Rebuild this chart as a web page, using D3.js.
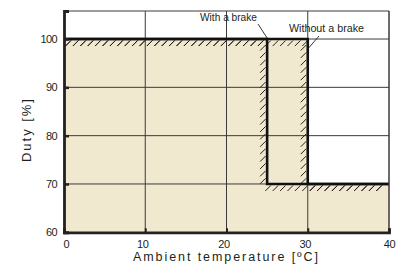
<!DOCTYPE html>
<html>
<head>
<meta charset="utf-8">
<style>
  body { margin: 0; background: #fff; }
  text { font-family: "Liberation Sans", sans-serif; fill: #231f20; }
  .grid line { stroke: #3a3a3a; stroke-width: 1; }
  .hatch line { stroke: #231f20; stroke-width: 1; }
</style>
</head>
<body>
<svg width="400" height="265"></svg>
<script src="https://cdnjs.cloudflare.com/ajax/libs/d3/7.8.5/d3.min.js"></script>
<script>
// data
var xTicks = [0, 10, 20, 30, 40];
var yTicks = [60, 70, 80, 90, 100];
var withBrake = [[0, 100], [25, 100], [25, 70], [40, 70]];
var withoutBrake = [[0, 100], [30, 100], [30, 70], [40, 70]];
var labels = ["With a brake", "Without a brake"];

var svg = d3.select("svg");
var pL = 64, pR = 389, pT = 11, pB = 232.3;

var x = d3.scaleLinear().domain([0, 40]).range([pL, pR]);
var y = d3.scaleLinear().domain([60, 105.8]).range([pB, pT]);

// beige area under the outer curve
var area = d3.area()
    .x(function(d) { return x(d[0]); })
    .y0(y(60))
    .y1(function(d) { return y(d[1]); });
svg.append("path")
    .datum(withoutBrake)
    .attr("d", area)
    .attr("fill", "#f0e9cf");

// grid
var grid = svg.append("g").attr("class", "grid");
grid.selectAll(".gx").data(xTicks.slice(1))
  .enter().append("line")
    .attr("x1", function(d) { return x(d); })
    .attr("x2", function(d) { return x(d); })
    .attr("y1", pT).attr("y2", pB);
grid.selectAll(".gy").data(yTicks.slice(1))
  .enter().append("line")
    .attr("x1", pL).attr("x2", pR)
    .attr("y1", function(d) { return y(d); })
    .attr("y2", function(d) { return y(d); });
grid.append("line").attr("x1", pL).attr("x2", pR).attr("y1", pT).attr("y2", pT);

// hatch marks on the right-hand side of travel (below / left)
var hatch = svg.append("g").attr("class", "hatch");
var step = 7.4, hl = 5.5;
function addHatches(pts) {
  for (var i = 0; i < pts.length - 1; i++) {
    var x0 = x(pts[i][0]), y0 = y(pts[i][1]), x1 = x(pts[i + 1][0]), y1 = y(pts[i + 1][1]);
    var marks = [];
    if (y0 === y1) {
      for (var px = pL + 7; px <= x1 + 0.1; px += step) {
        if (px >= x0 + 2) marks.push([px, y0 + 1.5]);
      }
    } else {
      for (var py = y0 + 6; py <= y1 - 2; py += step) marks.push([x0 - 1.5, py]);
    }
    hatch.selectAll(null).data(marks).enter().append("line")
      .attr("x1", function(d) { return d[0] - hl; })
      .attr("y1", function(d) { return d[1] + hl; })
      .attr("x2", function(d) { return d[0]; })
      .attr("y2", function(d) { return d[1]; });
  }
}
addHatches(withBrake);
addHatches(withoutBrake);

// curves
var line = d3.line()
    .x(function(d) { return x(d[0]); })
    .y(function(d) { return y(d[1]); });
[withBrake, withoutBrake].forEach(function(s) {
  svg.append("path").datum(s).attr("d", line)
    .attr("fill", "none").attr("stroke", "#111").attr("stroke-width", 2.6)
    .attr("stroke-linejoin", "miter");
});

// frame
svg.append("line").attr("x1", pR).attr("x2", pR).attr("y1", pT).attr("y2", pB)
  .attr("stroke", "#3a3a3a").attr("stroke-width", 1);

var yAxis = d3.axisLeft(y).tickValues(yTicks.concat([105.8])).tickSize(-5).tickPadding(7)
  .tickFormat(function(d) { return d > 100 ? "" : d; });
var gy = svg.append("g").attr("transform", "translate(" + pL + ",0)").call(yAxis);
gy.select(".domain").attr("stroke", "#222").attr("stroke-width", 2.8);
gy.selectAll(".tick line").attr("stroke", "#222").attr("stroke-width", 2.5);
gy.selectAll(".tick text").attr("font-size", 11).attr("letter-spacing", -0.6)
  .attr("font-family", "Liberation Sans").attr("fill", "#231f20");

var xAxis = d3.axisBottom(x).tickValues(xTicks).tickSize(-4).tickPadding(8);
var gx = svg.append("g").attr("transform", "translate(0," + pB + ")").call(xAxis);
gx.select(".domain").attr("stroke", "#222").attr("stroke-width", 2.8);
gx.selectAll(".tick line").attr("stroke", "#222").attr("stroke-width", 2);
gx.selectAll(".tick text").attr("font-size", 11).attr("letter-spacing", -0.3)
  .attr("font-family", "Liberation Sans").attr("fill", "#231f20")
  .attr("text-anchor", function(d) { return d === 0 ? "start" : "middle"; })
  .attr("dx", function(d) { return d === 0 ? -1 : (d === 40 ? 0 : -3); });

// axis titles
svg.append("text")
    .attr("x", 133).attr("y", 261)
    .attr("font-size", 12.5).attr("font-family", "Open Sans")
    .attr("textLength", 185).attr("lengthAdjust", "spacing")
    .text("Ambient temperature [ºC]");
svg.append("text")
    .attr("transform", "translate(31,162) rotate(-90)")
    .attr("font-size", 13).attr("font-family", "Open Sans")
    .attr("textLength", 63).attr("lengthAdjust", "spacing")
    .text("Duty [%]");

// curve labels with leaders
svg.append("text").attr("x", 200).attr("y", 21).attr("font-size", 10)
  .attr("textLength", 57).attr("lengthAdjust", "spacingAndGlyphs").text(labels[0]);
svg.append("line").attr("x1", 258).attr("y1", 24).attr("x2", x(25)).attr("y2", y(100) - 1)
  .attr("stroke", "#222").attr("stroke-width", 0.9);
svg.append("text").attr("x", 289).attr("y", 32).attr("font-size", 10)
  .attr("textLength", 75).attr("lengthAdjust", "spacingAndGlyphs").text(labels[1]);
svg.append("line").attr("x1", 319).attr("y1", 36).attr("x2", x(30)).attr("y2", y(100) + 10)
  .attr("stroke", "#222").attr("stroke-width", 0.9);
</script>
</body>
</html>
